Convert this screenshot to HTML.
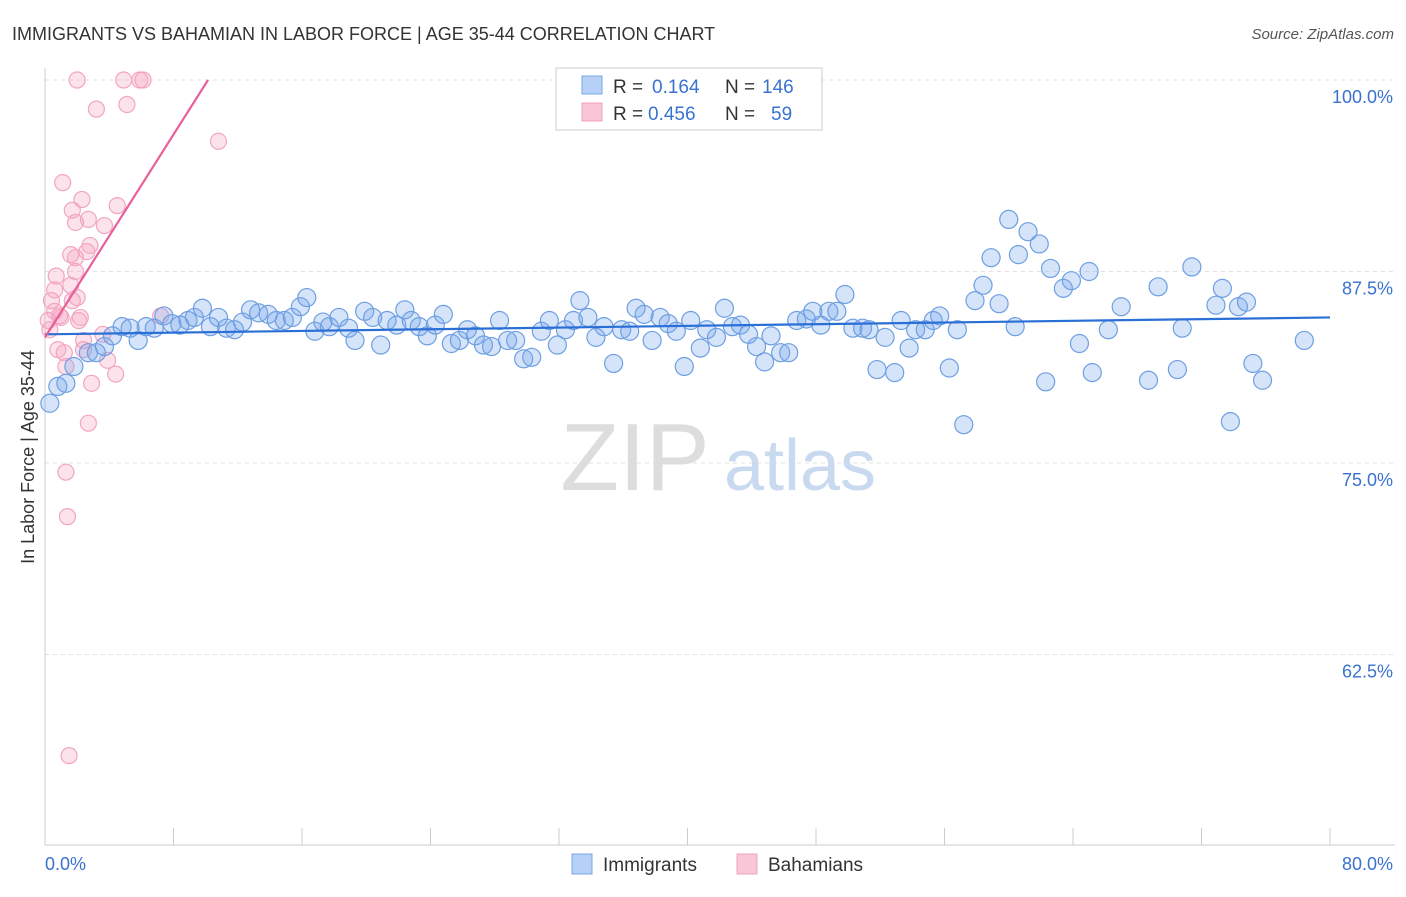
<!DOCTYPE html>
<html><head><meta charset="utf-8"><style>
body{margin:0;background:#fff;font-family:"Liberation Sans",sans-serif;}
svg text{font-family:"Liberation Sans",sans-serif;}
</style></head><body>
<svg width="1406" height="892" viewBox="0 0 1406 892" xmlns="http://www.w3.org/2000/svg">
<text x="12" y="40" font-size="18" fill="#333">IMMIGRANTS VS BAHAMIAN IN LABOR FORCE | AGE 35-44 CORRELATION CHART</text>
<text x="1394" y="39" font-size="15" fill="#555" text-anchor="end" font-style="italic">Source: ZipAtlas.com</text>
<g id="grid"></g>
<g><text x="635" y="490" font-size="96" font-family="Liberation Serif" fill="#ddd" text-anchor="middle">ZIP</text><text x="800" y="490" font-size="72" fill="#c9d9ef" text-anchor="middle">atlas</text></g>
<line x1="45" y1="68" x2="45" y2="845" stroke="#ccc"/>
<line x1="45" y1="845" x2="1395" y2="845" stroke="#ccc"/>
<g id="xticks"></g>
<g id="ylabels"></g>
<text x="45" y="870" font-size="18" fill="#3a72d0">0.0%</text>
<text x="1393" y="870" font-size="18" fill="#3a72d0" text-anchor="end">80.0%</text>
<text transform="translate(34,457) rotate(-90)" font-size="18" fill="#333" text-anchor="middle">In Labor Force | Age 35-44</text>
<g id="pts"></g>
<g id="lines"></g>
<g>
<rect x="556" y="68" width="266" height="62" fill="#fff" stroke="#ccc"/>
<rect x="582" y="76" width="20" height="18" fill="#b7d0f5" stroke="#7aa6e6"/>
<rect x="582" y="103" width="20" height="18" fill="#f8c6d6" stroke="#f0a0bc"/>
<text x="613" y="93" font-size="19" fill="#333">R = </text><text x="652" y="93" font-size="19" fill="#3a72d0">0.164</text>
<text x="725" y="93" font-size="19" fill="#333">N = </text><text x="762" y="93" font-size="19" fill="#3a72d0">146</text>
<text x="613" y="120" font-size="19" fill="#333">R = </text><text x="648" y="120" font-size="19" fill="#3a72d0">0.456</text>
<text x="725" y="120" font-size="19" fill="#333">N = </text><text x="771" y="120" font-size="19" fill="#3a72d0">59</text>
</g>
<g>
<rect x="572" y="854" width="20" height="20" fill="#b7d0f5" stroke="#7aa6e6"/>
<text x="603" y="871" font-size="19" fill="#333">Immigrants</text>
<rect x="737" y="854" width="20" height="20" fill="#f8c6d6" stroke="#f0a0bc"/>
<text x="768" y="871" font-size="19" fill="#333">Bahamians</text>
</g>
</svg>
<script>
const yTicks=[100,87.5,75,62.5];
const yTickLabels=["100.0%","87.5%","75.0%","62.5%"];
const xTicks=[0,8,16,24,32,40,48,56,64,72,80];
const blueX=[0.3,0.8,1.3,1.8,2.7,3.2,3.7,4.2,4.8,5.3,5.8,6.3,6.8,7.4,7.9,8.4,8.9,9.3,9.8,10.3,10.8,11.3,11.8,12.3,12.8,13.3,13.9,14.4,14.9,15.4,15.9,16.3,16.8,17.3,17.7,18.3,18.9,19.3,19.9,20.4,20.9,21.3,21.9,22.4,22.8,23.3,23.8,24.3,24.8,25.3,25.8,26.3,26.8,27.3,27.8,28.3,28.8,29.3,29.8,30.3,30.9,31.4,31.9,32.4,32.9,33.3,33.8,34.3,34.8,35.4,35.9,36.4,36.8,37.3,37.8,38.3,38.8,39.3,39.8,40.2,40.8,41.2,41.8,42.3,42.8,43.3,43.8,44.3,44.8,45.2,45.8,46.3,46.8,47.4,47.8,48.3,48.8,49.3,49.8,50.3,50.9,51.3,51.8,52.3,52.9,53.3,53.8,54.2,54.8,55.3,55.7,56.3,56.8,57.2,57.9,58.4,58.9,59.4,60.0,60.4,60.6,61.2,61.9,62.3,62.6,63.4,63.9,64.4,65.0,65.2,66.2,67.0,68.7,69.3,70.5,70.8,71.4,72.9,73.3,73.8,74.3,74.8,75.2,75.8,78.4];
const blueY=[78.9,80.0,80.2,81.3,82.2,82.2,82.6,83.3,83.9,83.8,83.0,83.9,83.8,84.6,84.1,84.0,84.3,84.5,85.1,83.9,84.5,83.8,83.7,84.2,85.0,84.8,84.7,84.3,84.3,84.5,85.2,85.8,83.6,84.2,83.9,84.5,83.8,83.0,84.9,84.5,82.7,84.3,84.0,85.0,84.3,83.9,83.3,84.0,84.7,82.8,83.0,83.7,83.3,82.7,82.6,84.3,83.0,83.0,81.8,81.9,83.6,84.3,82.7,83.7,84.3,85.6,84.5,83.2,83.9,81.5,83.7,83.6,85.1,84.7,83.0,84.5,84.1,83.6,81.3,84.3,82.5,83.7,83.2,85.1,83.9,84.0,83.4,82.6,81.6,83.3,82.2,82.2,84.3,84.4,84.9,84.0,84.9,84.9,86.0,83.8,83.8,83.7,81.1,83.2,80.9,84.3,82.5,83.7,83.7,84.3,84.6,81.2,83.7,77.5,85.6,86.6,88.4,85.4,90.9,83.9,88.6,90.1,89.3,80.3,87.7,86.4,86.9,82.8,87.5,80.9,83.7,85.2,80.4,86.5,81.1,83.8,87.8,85.3,86.4,77.7,85.2,85.5,81.5,80.4,83.0];
const pinkX=[0.2,0.3,0.4,0.6,0.6,0.7,0.8,0.9,1.0,1.1,1.2,1.3,1.3,1.4,1.5,1.6,1.6,1.7,1.7,1.9,1.9,2.0,2.0,2.1,2.2,2.3,2.4,2.4,2.6,2.7,2.7,2.8,2.9,3.2,3.6,3.7,3.9,4.4,4.5,4.9,5.1,5.9,6.1,7.2,10.8,1.9];
const pinkY=[84.3,83.7,85.6,84.9,86.3,87.2,82.4,84.6,84.5,93.3,82.2,81.3,74.4,71.5,55.9,86.6,88.6,85.6,91.5,87.5,90.7,100,85.8,84.3,84.5,92.2,83.0,82.4,88.8,90.9,77.6,89.2,80.2,98.1,83.4,90.5,81.7,80.8,91.8,100,98.4,100,100,84.6,96.0,88.4];
const blueTrend=[[0,83.4],[80,84.5]];
const pinkTrend=[[0,83.2],[10.15,100]];
const NS="http://www.w3.org/2000/svg";
const sx=v=>45+v/80*1285;
const sy=v=>80+(100-v)*15.32;
function mk(tag,attrs,parent){const e=document.createElementNS(NS,tag);for(const k in attrs)e.setAttribute(k,attrs[k]);parent.appendChild(e);return e;}
const grid=document.getElementById('grid'),yl=document.getElementById('ylabels'),xt=document.getElementById('xticks'),pts=document.getElementById('pts'),ln=document.getElementById('lines');
yTicks.forEach((t,i)=>{
 const g=mk('line',{x1:45,x2:1395,y1:sy(t),y2:sy(t),stroke:'#e2e2e2','stroke-dasharray':'4,4'},grid);
 
 
 const tx=mk('text',{x:1393,y:sy(t)+23,'font-size':18,fill:'#3a72d0','text-anchor':'end'},yl);
 tx.textContent=yTickLabels[i];
 
 
});
xTicks.forEach(t=>{
 const l=mk('line',{x1:sx(t),x2:sx(t),y1:828,y2:845,stroke:'#ccc'},xt);
 
 
});
pinkX.forEach((x,i)=>{
 const c=mk('circle',{cx:sx(x),cy:sy(pinkY[i]),r:8,fill:'rgba(244,160,190,0.3)',stroke:'#f2a6c0','stroke-width':1.2},pts);
 
 
});
blueX.forEach((x,i)=>{
 const c=mk('circle',{cx:sx(x),cy:sy(blueY[i]),r:9,fill:'rgba(120,165,235,0.3)',stroke:'#6d9fe2','stroke-width':1.2},pts);
 
 
});
const bl=mk('line',{x1:sx(blueTrend[0][0]),y1:sy(blueTrend[0][1]),x2:sx(blueTrend[1][0]),y2:sy(blueTrend[1][1]),stroke:'#2a6fd6','stroke-width':2.2},ln);


const pl=mk('line',{x1:sx(pinkTrend[0][0]),y1:sy(pinkTrend[0][1]),x2:sx(pinkTrend[1][0]),y2:sy(pinkTrend[1][1]),stroke:'#e8609a','stroke-width':2.2},ln);


</script>
</body></html>
